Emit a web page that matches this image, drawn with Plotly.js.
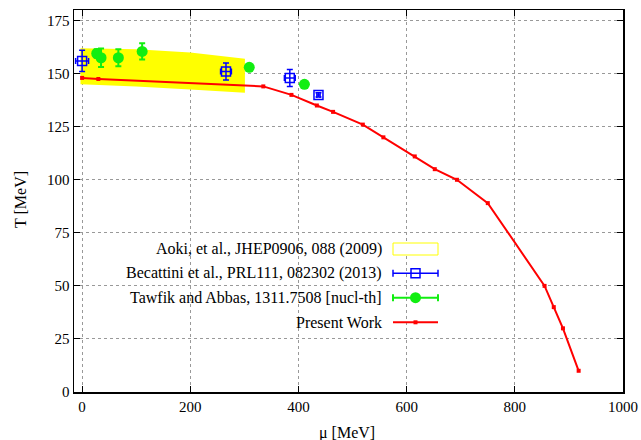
<!DOCTYPE html>
<html>
<head>
<meta charset="utf-8">
<script src="https://cdn.plot.ly/plotly-3.0.1.min.js"></script>
<style>html,body{margin:0;padding:0;background:#fff;}#chart{width:641px;height:440px;}</style>
</head>
<body>
<div id="chart"></div>
<script>
// Aoki et al. band
const aokiMu  = [-3, 100, 200, 301];
const aokiTop = [162, 161.5, 160, 157];
const aokiBot = [145, 144, 142.5, 141];

// Becattini et al.
const becMu   = [0, 266, 384, 437];
const becT    = [156, 151, 148, 140];
const becErrT = [5, 4, 4, 1];
const becErrMu = [12, 10, 10, 3];

// Tawfik and Abbas
const tawMu   = [27, 35, 67, 111, 309, 411];
const tawT    = [159.5, 157.5, 157.5, 160.5, 153, 145];
const tawErrT = [2, 4.3, 4, 3.8, 1, 1];

// Present Work
const presMu = [0, 30, 335, 387, 434, 464, 519, 557, 615, 652, 693, 750, 855, 872, 889, 918];
const presT  = [148, 147.5, 144, 140, 135, 132, 126, 120, 111, 105, 100, 89, 50, 40, 30, 10];

const legendLabels = [
  'Aoki, et al., JHEP0906, 088 (2009)',
  'Becattini et al., PRL111, 082302 (2013)',
  'Tawfik and Abbas, 1311.7508 [nucl-th]',
  'Present Work'
];
const xTitle = 'μ [MeV]';
const yTitle = 'T [MeV]';

const FONT = 'Liberation Serif';
const YEL = '#ffff00', BLU = '#0000ff', GRN = '#11ee11', RED = '#ff0000';

const traces = [
  {x: aokiMu, y: aokiBot, mode: 'lines', line: {width: 0, color: YEL}, hoverinfo: 'skip', showlegend: false},
  {x: aokiMu, y: aokiTop, mode: 'lines', line: {width: 0, color: YEL}, fill: 'tonexty', fillcolor: YEL, hoverinfo: 'skip', showlegend: false},
  {x: presMu, y: presT, mode: 'lines+markers', line: {color: RED, width: 2}, marker: {symbol: 'square', size: 4, color: RED}, showlegend: false},
  {x: becMu, y: becT, mode: 'markers', marker: {symbol: 'square-open', size: 9, color: BLU, line: {width: 1.5, color: BLU}},
   error_y: {type: 'data', array: becErrT, color: BLU, thickness: 1.5, width: 3},
   error_x: {type: 'data', array: becErrMu, color: BLU, thickness: 1.5, width: 3}, showlegend: false},
  {x: tawMu, y: tawT, mode: 'markers', marker: {symbol: 'circle', size: 11, color: GRN},
   error_y: {type: 'data', array: tawErrT, color: GRN, thickness: 2, width: 3}, showlegend: false}
];

// plot area in pixels: left 74, right 623, top 10, bottom 392
const PL = 74, PR = 623, PT = 10, PB = 392;
const px = v => (v - PL) / (PR - PL);
const py = v => (PB - v) / (PB - PT);

const rowsY = [249, 273.3, 297.7, 322.3];
const sx0 = 393, sx1 = 438, smid = 415.5;

function hline(x0, x1, y, color, w) {
  return {type: 'line', xref: 'paper', yref: 'paper', x0: px(x0), x1: px(x1), y0: py(y), y1: py(y), line: {color: color, width: w}};
}
function vline(x, y0, y1, color, w) {
  return {type: 'line', xref: 'paper', yref: 'paper', x0: px(x), x1: px(x), y0: py(y0), y1: py(y1), line: {color: color, width: w}};
}
function box(x0, x1, y0, y1) {
  return 'M' + px(x0) + ',' + py(y0) + ' L' + px(x1) + ',' + py(y0) + ' L' + px(x1) + ',' + py(y1) + ' L' + px(x0) + ',' + py(y1) + ' Z';
}

const shapes = [
  // legend background box hides the grid
  {type: 'rect', xref: 'paper', yref: 'paper', x0: px(PL + 1), x1: px(447), y0: py(335), y1: py(236),
   fillcolor: '#ffffff', line: {width: 0}, layer: 'between'},
  // Aoki sample (outline rectangle)
  {type: 'path', xref: 'paper', yref: 'paper', path: box(sx0, sx1, rowsY[0] - 6, rowsY[0] + 6),
   fillcolor: '#ffffff', line: {color: YEL, width: 1}},
  // Becattini sample
  hline(sx0, sx1, rowsY[1], BLU, 1.5),
  vline(sx0, rowsY[1] - 3.5, rowsY[1] + 3.5, BLU, 1.5),
  vline(sx1, rowsY[1] - 3.5, rowsY[1] + 3.5, BLU, 1.5),
  {type: 'rect', xref: 'paper', yref: 'paper', x0: px(smid - 4.5), x1: px(smid + 4.5), y0: py(rowsY[1] + 4.5), y1: py(rowsY[1] - 4.5),
   line: {color: BLU, width: 1.5}, fillcolor: 'rgba(255,255,255,0)'},
  // Tawfik sample
  hline(sx0, sx1, rowsY[2], GRN, 2),
  vline(sx0, rowsY[2] - 3.5, rowsY[2] + 3.5, GRN, 2),
  vline(sx1, rowsY[2] - 3.5, rowsY[2] + 3.5, GRN, 2),
  {type: 'circle', xref: 'paper', yref: 'paper', x0: px(smid - 5.5), x1: px(smid + 5.5), y0: py(rowsY[2] + 5.5), y1: py(rowsY[2] - 5.5),
   line: {color: GRN, width: 0}, fillcolor: GRN},
  // Present work sample
  hline(sx0, sx1, rowsY[3], RED, 2),
  {type: 'rect', xref: 'paper', yref: 'paper', x0: px(smid - 2), x1: px(smid + 2), y0: py(rowsY[3] + 2), y1: py(rowsY[3] - 2),
   line: {color: RED, width: 0}, fillcolor: RED}
];

const tickFont = {family: FONT, size: 15, color: '#000'};
const txtFont = {family: FONT, size: 16, color: '#000'};
const annotations = legendLabels.map((t, i) => ({
  text: t, xref: 'paper', yref: 'paper', x: px(384), y: py(rowsY[i]), xanchor: 'right', yanchor: 'middle',
  showarrow: false, font: txtFont
}));
annotations.push({text: xTitle, xref: 'paper', yref: 'paper', x: px(347), y: py(433), xanchor: 'center', yanchor: 'middle', showarrow: false, font: txtFont});
annotations.push({text: yTitle, xref: 'paper', yref: 'paper', x: px(20), y: py(200), xanchor: 'center', yanchor: 'middle', textangle: -90, showarrow: false, font: txtFont});

const axisCommon = {
  showline: true, linecolor: '#000', linewidth: 1.5, mirror: 'ticks',
  ticks: 'inside', ticklen: 6, tickwidth: 1, tickcolor: '#000',
  showgrid: true, gridcolor: '#999', griddash: 'dot', gridwidth: 1,
  zeroline: false, tickfont: tickFont
};

const layout = {
  width: 641, height: 440,
  margin: {l: PL, r: 641 - PR, t: PT, b: 440 - PB},
  paper_bgcolor: '#fff', plot_bgcolor: '#fff',
  showlegend: false,
  font: tickFont,
  xaxis: Object.assign({}, axisCommon, {
    range: [-15, 1000], tickvals: [0, 200, 400, 600, 800, 1000]
  }),
  yaxis: Object.assign({}, axisCommon, {
    range: [0, 180], tickvals: [0, 25, 50, 75, 100, 125, 150, 175]
  }),
  shapes: shapes,
  annotations: annotations
};

Plotly.newPlot('chart', traces, layout, {staticPlot: true, displayModeBar: false});
</script>
</body>
</html>
